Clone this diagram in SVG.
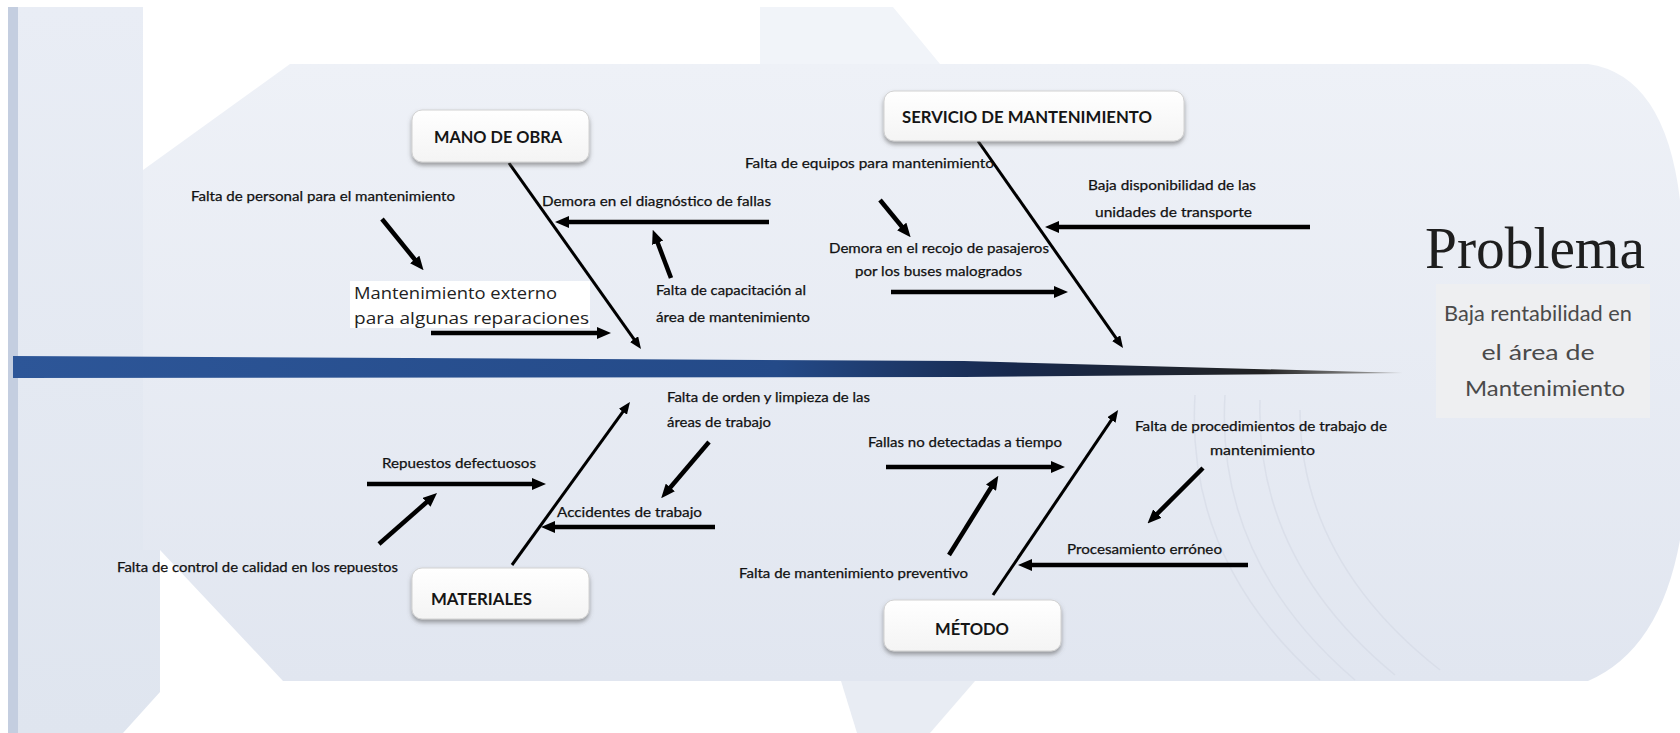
<svg xmlns="http://www.w3.org/2000/svg" width="1680" height="733" viewBox="0 0 1680 733">
<style>
.lbl{font-family:Lato,"Liberation Sans",sans-serif;font-size:14px;fill:#111;stroke:#111;stroke-width:0.25}
.cat{font-family:Lato,"Liberation Sans",sans-serif;font-size:17px;font-weight:700;fill:#151515}
.ext{font-family:"Open Sans",Lato,sans-serif;font-size:17px;fill:#222}
.arr{stroke:#000;stroke-width:4.5;fill:none;marker-end:url(#ah)}
.bone{stroke:#000;stroke-width:3;fill:none;marker-end:url(#ahs)}
.box{fill:url(#boxg);stroke:#d2d2d2;stroke-width:1;filter:url(#sh)}
.sub{font-family:Lato,"Liberation Sans",sans-serif;font-size:21px;fill:#4a4a4a;text-anchor:middle}
.arc{fill:none;stroke:#d3d9e4;stroke-width:1.5;opacity:0.6}
</style>
<defs>
<marker id="ah" markerUnits="userSpaceOnUse" markerWidth="14" markerHeight="12" refX="2" refY="6" orient="auto">
<path d="M0,0 L14,6 L0,12 Z" fill="#000"/>
</marker>
<marker id="ahs" markerUnits="userSpaceOnUse" markerWidth="12" markerHeight="10" refX="2" refY="5" orient="auto">
<path d="M0,0 L12,5 L0,10 Z" fill="#000"/>
</marker>
<linearGradient id="bodyg" x1="0" y1="0" x2="0" y2="1">
<stop offset="0" stop-color="#eef1f7"/>
<stop offset="1" stop-color="#e1e6f0"/>
</linearGradient>
<linearGradient id="tailg" x1="0" y1="0" x2="0" y2="1">
<stop offset="0" stop-color="#e9edf5"/>
<stop offset="1" stop-color="#dfe5ef"/>
</linearGradient>
<linearGradient id="bandg" x1="13" y1="0" x2="1403" y2="0" gradientUnits="userSpaceOnUse">
<stop offset="0" stop-color="#2d5698"/>
<stop offset="0.55" stop-color="#244a88"/>
<stop offset="0.72" stop-color="#17284c"/>
<stop offset="0.9" stop-color="#222"/>
<stop offset="1" stop-color="#b0b0b0"/>
</linearGradient>
<linearGradient id="boxg" x1="0" y1="0" x2="0" y2="1">
<stop offset="0" stop-color="#ffffff"/>
<stop offset="1" stop-color="#f4f4f4"/>
</linearGradient>
<filter id="sh" x="-10%" y="-20%" width="120%" height="150%">
<feDropShadow dx="0" dy="3" stdDeviation="2" flood-color="#555" flood-opacity="0.55"/>
</filter>
</defs>

<!-- background -->
<rect width="1680" height="733" fill="#ffffff"/>
<rect x="8" y="7" width="10" height="726" fill="#c4cee0"/>
<polygon points="18,7 143,7 143,550 160,550 160,692 123,733 18,733" fill="url(#tailg)"/>
<path d="M290,64 L1588,64 Q1665,75 1680,200 L1680,540 Q1660,650 1588,681 L283,681 L160,550 L143,550 L143,170 Z" fill="url(#bodyg)"/>
<polygon points="760,7 893,7 940,64 760,64" fill="#f1f4f9"/>
<polygon points="841,681 975,681 930,733 857,733" fill="#e8ecf3"/>
<path class="arc" d="M1195,395 Q1185,560 1320,680"/>
<path class="arc" d="M1225,395 Q1215,560 1355,680"/>
<path class="arc" d="M1260,400 Q1255,560 1395,675"/>
<path class="arc" d="M1300,410 Q1300,560 1440,670"/>

<!-- spine -->
<polygon points="13,356 964,361 1403,373 964,377 13,378" fill="url(#bandg)"/>

<!-- text background -->
<rect x="350" y="281" width="240" height="47" fill="#ffffff"/>

<g id="connectors">
<line class="bone" x1="509" y1="163" x2="635.2" y2="340.8"/>
<line class="bone" x1="978" y1="141" x2="1117.3" y2="339.8"/>
<line class="bone" x1="512" y1="565" x2="624.1" y2="410.1"/>
<line class="bone" x1="993" y1="595" x2="1112.5" y2="418.4"/>

<line class="arr" x1="769" y1="222" x2="567" y2="222"/>
<line class="arr" x1="671" y1="278" x2="657" y2="241"/>
<line class="arr" x1="382" y1="219" x2="416" y2="261"/>
<line class="arr" x1="431" y1="333" x2="599" y2="333"/>

<line class="arr" x1="880" y1="200" x2="903" y2="228"/>
<line class="arr" x1="891" y1="292" x2="1056" y2="292"/>
<line class="arr" x1="1310" y1="227" x2="1057" y2="227"/>

<line class="arr" x1="709" y1="442" x2="669" y2="489"/>
<line class="arr" x1="715" y1="527" x2="553" y2="527"/>
<line class="arr" x1="367" y1="484" x2="534" y2="484"/>
<line class="arr" x1="379" y1="544" x2="428" y2="501"/>

<line class="arr" x1="886" y1="467" x2="1053" y2="467"/>
<line class="arr" x1="949" y1="555" x2="992" y2="486"/>
<line class="arr" x1="1203" y1="468" x2="1156" y2="515"/>
<line class="arr" x1="1248" y1="565" x2="1030" y2="565"/>
</g>

<!-- cause labels -->
<g id="causes">
<text class="lbl" x="191" y="201" textLength="264" lengthAdjust="spacingAndGlyphs">Falta de personal para el mantenimiento</text>
<text class="lbl" x="542" y="206" textLength="229" lengthAdjust="spacingAndGlyphs">Demora en el diagnóstico de fallas</text>
<text class="lbl" x="656" y="295" textLength="150" lengthAdjust="spacingAndGlyphs">Falta de capacitación al</text>
<text class="lbl" x="656" y="322" textLength="154" lengthAdjust="spacingAndGlyphs">área de mantenimiento</text>
<text class="ext" x="354" y="299" textLength="203" lengthAdjust="spacingAndGlyphs">Mantenimiento externo</text>
<text class="ext" x="354" y="324" textLength="235" lengthAdjust="spacingAndGlyphs">para algunas reparaciones</text>

<text class="lbl" x="745" y="168" textLength="249" lengthAdjust="spacingAndGlyphs">Falta de equipos para mantenimiento</text>
<text class="lbl" x="829" y="253" textLength="220" lengthAdjust="spacingAndGlyphs">Demora en el recojo de pasajeros</text>
<text class="lbl" x="855" y="276" textLength="167" lengthAdjust="spacingAndGlyphs">por los buses malogrados</text>
<text class="lbl" x="1088" y="190" textLength="168" lengthAdjust="spacingAndGlyphs">Baja disponibilidad de las</text>
<text class="lbl" x="1095" y="217" textLength="157" lengthAdjust="spacingAndGlyphs">unidades de transporte</text>

<text class="lbl" x="667" y="402" textLength="203" lengthAdjust="spacingAndGlyphs">Falta de orden y limpieza de las</text>
<text class="lbl" x="667" y="427" textLength="104" lengthAdjust="spacingAndGlyphs">áreas de trabajo</text>
<text class="lbl" x="557" y="517" textLength="145" lengthAdjust="spacingAndGlyphs">Accidentes de trabajo</text>
<text class="lbl" x="382" y="468" textLength="154" lengthAdjust="spacingAndGlyphs">Repuestos defectuosos</text>
<text class="lbl" x="117" y="572" textLength="281" lengthAdjust="spacingAndGlyphs">Falta de control de calidad en los repuestos</text>

<text class="lbl" x="868" y="447" textLength="194" lengthAdjust="spacingAndGlyphs">Fallas no detectadas a tiempo</text>
<text class="lbl" x="739" y="578" textLength="229" lengthAdjust="spacingAndGlyphs">Falta de mantenimiento preventivo</text>
<text class="lbl" x="1135" y="431" textLength="252" lengthAdjust="spacingAndGlyphs">Falta de procedimientos de trabajo de</text>
<text class="lbl" x="1210" y="455" textLength="105" lengthAdjust="spacingAndGlyphs">mantenimiento</text>
<text class="lbl" x="1067" y="554" textLength="155" lengthAdjust="spacingAndGlyphs">Procesamiento erróneo</text>
</g>

<!-- category nodes -->
<g id="node-mano-de-obra">
<rect class="box" x="412" y="110" width="177" height="52" rx="10"/>
<text class="cat" x="434" y="143" textLength="128" lengthAdjust="spacingAndGlyphs">MANO DE OBRA</text>
</g>
<g id="node-servicio">
<rect class="box" x="884" y="91" width="300" height="50" rx="10"/>
<text class="cat" x="902" y="123" textLength="250" lengthAdjust="spacingAndGlyphs">SERVICIO DE MANTENIMIENTO</text>
</g>
<g id="node-materiales">
<rect class="box" x="412" y="568" width="177" height="51" rx="10"/>
<text class="cat" x="431" y="605" textLength="101" lengthAdjust="spacingAndGlyphs">MATERIALES</text>
</g>
<g id="node-metodo">
<rect class="box" x="884" y="600" width="177" height="51" rx="10"/>
<text class="cat" x="935" y="635" textLength="74" lengthAdjust="spacingAndGlyphs">MÉTODO</text>
</g>

<!-- problem -->
<g id="node-problema">
<text x="1425" y="268" font-family="'Liberation Serif','DejaVu Serif',serif" font-size="60" fill="#1e1e1e" textLength="220" lengthAdjust="spacingAndGlyphs">Problema</text>
<rect x="1436" y="284" width="214" height="134" fill="#eeeff1"/>
<text class="sub" x="1538" y="321" textLength="188" lengthAdjust="spacingAndGlyphs">Baja rentabilidad en</text>
<text class="sub" x="1538" y="360" textLength="113" lengthAdjust="spacingAndGlyphs">el área de</text>
<text class="sub" x="1545" y="396" textLength="160" lengthAdjust="spacingAndGlyphs">Mantenimiento</text>
</g>
</svg>
